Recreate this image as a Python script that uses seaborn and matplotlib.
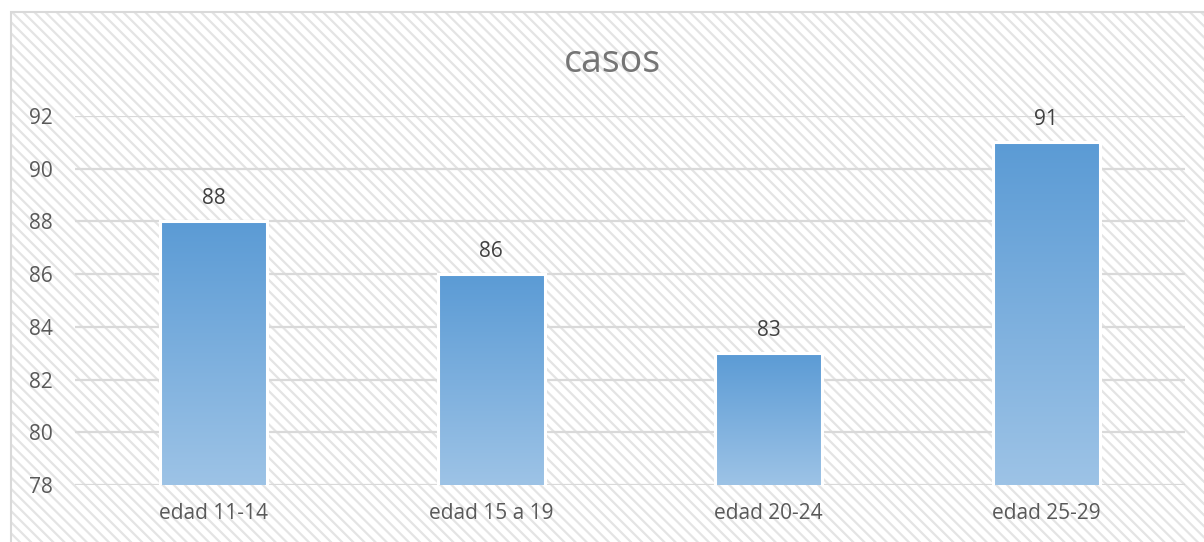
import numpy as np
import matplotlib
matplotlib.use("Agg")
import matplotlib.pyplot as plt
import seaborn as sns
from matplotlib.patches import Rectangle
from matplotlib.colors import LinearSegmentedColormap

categories = ["edad 11-14", "edad 15 a 19", "edad 20-24", "edad 25-29"]
values = [88, 86, 83, 91]
y_ticks = [78, 80, 82, 84, 86, 88, 90, 92]
title = "casos"

sns.set_theme(style="white")
plt.rcParams['font.family'] = ['Open Sans', 'DejaVu Sans']
plt.rcParams['hatch.linewidth'] = 1.6
plt.rcParams['hatch.color'] = '#E4E4E4'

W, H = 1204, 542
fig = plt.figure(figsize=(W / 100, H / 100), dpi=100)
fig.patch.set_facecolor('white')

# chart-area background with diagonal hatch
bg = Rectangle((11 / W, 0), 1.0, 1 - 12 / H, transform=fig.transFigure,
               facecolor='white', edgecolor='#E4E4E4', linewidth=0,
               hatch='\\\\\\', zorder=-3)
fig.patches.append(bg)
border = Rectangle((11 / W, -0.1), 1.2, 1.1 - 12 / H, transform=fig.transFigure,
                   facecolor='none', edgecolor='#D9D9D9', linewidth=1.5, zorder=-2)
fig.patches.append(border)

ax = fig.add_axes([75 / W, 57 / H, (1185 - 75) / W, (485 - 116) / H])
ax.set_facecolor('none')

sns.barplot(x=categories, y=values, ax=ax, width=0.385, color='#5B9BD5',
            edgecolor='white', linewidth=2.2, zorder=3)

ax.set_ylim(78, 92)
ax.set_yticks(y_ticks)
ax.set_yticklabels([str(t) for t in y_ticks])
ax.yaxis.grid(True, color='#D9D9D9', linewidth=1.6, zorder=1)
ax.set_axisbelow(True)
for s in ax.spines.values():
    s.set_visible(False)
ax.tick_params(axis='y', length=0, pad=16, labelsize=15, labelcolor='#595959')
ax.tick_params(axis='x', length=0, pad=13, labelsize=15, labelcolor='#595959')
ax.set_xlabel('')
ax.set_ylabel('')

cmap = LinearSegmentedColormap.from_list('g', ['#9DC3E6', '#5B9BD5'])
grad = np.linspace(0, 1, 256).reshape(-1, 1)
ylo = ax.get_ylim()[0]
for p in ax.patches:
    x0 = p.get_x()
    w = p.get_width()
    top = p.get_y() + p.get_height()
    im = ax.imshow(grad, cmap=cmap, aspect='auto', origin='lower',
                   extent=(x0, x0 + w, ylo, top), zorder=2.5)
    im.set_clip_path(p)
    p.set_facecolor('none')

ax.set_xlim(-0.5, len(categories) - 0.5)
ax.set_ylim(78, 92)

ax.bar_label(ax.containers[0], labels=[str(v) for v in values], padding=9,
             fontsize=15, color='#404040')

fig.text(612 / W, 1 - 62 / H, title, ha='center', va='center',
         fontsize=27, color='#757575')

fig.savefig('out.png', dpi=100)
